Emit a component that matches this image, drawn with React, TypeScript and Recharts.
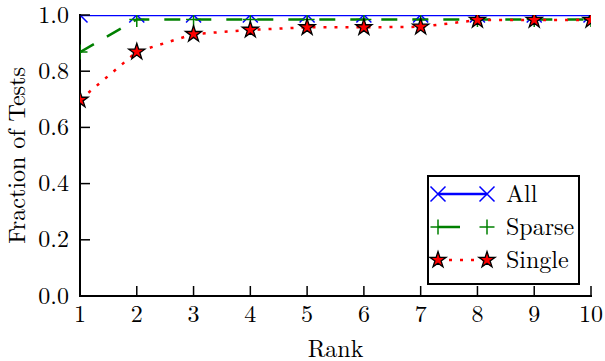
import { LineChart, Line, XAxis, YAxis, Legend } from "recharts";

const ranks = [1, 2, 3, 4, 5, 6, 7, 8, 9, 10];
const allTests = [1, 1, 1, 1, 1, 1, 1, 1, 1, 1];
const sparseTests = [0.868, 0.984, 0.984, 0.984, 0.984, 0.984, 0.984, 0.984, 0.984, 0.984];
const singleTests = [0.698, 0.869, 0.932, 0.947, 0.956, 0.956, 0.958, 0.982, 0.982, 0.982];
const xTicks = [1, 2, 3, 4, 5, 6, 7, 8, 9, 10];
const yTicks = [0, 0.2, 0.4, 0.6, 0.8, 1.0];
const seriesNames = ["All", "Sparse", "Single"];

const data = ranks.map((r, i) => ({
  rank: r,
  All: allTests[i],
  Sparse: sparseTests[i],
  Single: singleTests[i],
}));

const FONT = '"Latin Modern Roman", "Liberation Serif", monospace';
const txt = { fontFamily: FONT, fontSize: 24 };
const BLUE = "#0000ff";
const GREEN = "#008000";
const RED = "#ff0000";
const axisStyle = { stroke: "#000", strokeWidth: 2, strokeLinecap: "square" as const };

// plot box follows from the chart margins and axis sizes below
const PLOT = { x: 80, y: 15, w: 511, h: 281 };

const crossPath = (cx: number, cy: number, s: number) =>
  `M${cx - s},${cy - s}L${cx + s},${cy + s}M${cx - s},${cy + s}L${cx + s},${cy - s}`;
const plusPath = (cx: number, cy: number, s: number) =>
  `M${cx - s},${cy}L${cx + s},${cy}M${cx},${cy - s}L${cx},${cy + s}`;
const starPoints = (cx: number, cy: number, r: number) => {
  const pts: string[] = [];
  for (let k = 0; k < 10; k++) {
    const a = ((-90 + k * 36) * Math.PI) / 180;
    const rad = k % 2 ? r * 0.382 : r;
    pts.push(`${cx + rad * Math.cos(a)},${cy + rad * Math.sin(a)}`);
  }
  return pts.join(" ");
};

const Cross = ({ cx, cy }: { cx: number; cy: number }) => (
  <path d={crossPath(cx, cy, 7.5)} stroke={BLUE} strokeWidth={1.5} fill="none" />
);
const Plus = ({ cx, cy }: { cx: number; cy: number }) => (
  <path d={plusPath(cx, cy, 7.5)} stroke={GREEN} strokeWidth={1.5} fill="none" />
);
const Star = ({ cx, cy }: { cx: number; cy: number }) => (
  <polygon points={starPoints(cx, cy, 8.5)} fill={RED} stroke="#000" strokeWidth={1.3} />
);

// markers are cut at the frame, as in the original figure
const clipped = (el: any, key: string) => (
  <svg key={key} x={PLOT.x} y={PLOT.y} width={PLOT.w} height={PLOT.h} overflow="hidden">
    <g transform={`translate(${-PLOT.x} ${-PLOT.y})`}>{el}</g>
  </svg>
);
const dotCross = (p: any) => clipped(<Cross cx={p.cx} cy={p.cy} />, `c${p.index}`);
const dotPlus = (p: any) => clipped(<Plus cx={p.cx} cy={p.cy} />, `p${p.index}`);
const dotStar = (p: any) => clipped(<Star cx={p.cx} cy={p.cy} />, `s${p.index}`);

const BottomTick = ({ x, y, payload }: any) => (
  <g>
    <line x1={x} y1={y} x2={x} y2={y - 10} stroke="#000" strokeWidth={1.5} />
    <text x={x} y={y + 26} textAnchor="middle" style={txt} fill="#000">
      {payload.value}
    </text>
  </g>
);
const TopTick = ({ x, y }: any) => (
  <line x1={x} y1={y} x2={x} y2={y + 10} stroke="#000" strokeWidth={1.5} />
);
const LeftTick = ({ x, y, payload }: any) => (
  <g>
    <line x1={x} y1={y} x2={x + 10} y2={y} stroke="#000" strokeWidth={1.5} />
    <text x={x - 11} y={y + 7.5} textAnchor="end" style={txt} fill="#000">
      {Number(payload.value).toFixed(1)}
    </text>
  </g>
);
const RightTick = ({ x, y }: any) => (
  <line x1={x} y1={y} x2={x - 10} y2={y} stroke="#000" strokeWidth={1.5} />
);

const legendSymbols = [
  { name: seriesNames[0], color: BLUE, dash: undefined, Mark: Cross },
  { name: seriesNames[1], color: GREEN, dash: "22 30", Mark: Plus },
  { name: seriesNames[2], color: RED, dash: "3 8", Mark: Star },
];

function LegendBox() {
  return (
    <svg width={153} height={110} style={{ display: "block" }}>
      <rect x={1} y={1} width={151} height={108} fill="#fff" stroke="#000" strokeWidth={2} />
      {legendSymbols.map((s, i) => {
        const cy = 19 + 33 * i;
        return (
          <g key={s.name}>
            <line x1={11} y1={cy} x2={60} y2={cy} stroke={s.color} strokeWidth={2.5} strokeDasharray={s.dash} />
            <s.Mark cx={11} cy={cy} />
            <s.Mark cx={60} cy={cy} />
            <text x={79} y={cy + 8} style={txt} fill="#000">
              {s.name}
            </text>
          </g>
        );
      })}
    </svg>
  );
}

export default function App() {
  return (
    <div style={{ position: "absolute", left: 0, top: 0, background: "#fff", fontFamily: FONT }}>
      <LineChart width={605} height={361} data={data} margin={{ top: 15, right: 14, bottom: 0, left: 0 }}>
        <XAxis
          xAxisId="b"
          dataKey="rank"
          type="number"
          domain={[1, 10]}
          ticks={xTicks}
          allowDataOverflow
          interval={0}
          tickSize={0}
          tickMargin={0}
          tickLine={false}
          axisLine={axisStyle}
          tick={<BottomTick />}
          height={65}
          label={({ viewBox }: any) => (
            <text x={viewBox.x + viewBox.width / 2} y={viewBox.y + 61} textAnchor="middle" style={txt} fill="#000">
              Rank
            </text>
          )}
        />
        <XAxis
          xAxisId="t"
          orientation="top"
          dataKey="rank"
          type="number"
          domain={[1, 10]}
          ticks={xTicks}
          allowDataOverflow
          interval={0}
          tickSize={0}
          tickMargin={0}
          tickLine={false}
          axisLine={axisStyle}
          tick={<TopTick />}
          height={0}
        />
        <YAxis
          yAxisId="l"
          type="number"
          domain={[0, 1]}
          ticks={yTicks}
          allowDataOverflow
          interval={0}
          tickSize={0}
          tickMargin={0}
          tickLine={false}
          axisLine={axisStyle}
          tick={<LeftTick />}
          width={80}
          label={({ viewBox }: any) => {
            const cx = viewBox.x + 25;
            const cy = viewBox.y + viewBox.height / 2;
            return (
              <text x={cx} y={cy} transform={`rotate(-90 ${cx} ${cy})`} textAnchor="middle" style={txt} fill="#000">
                Fraction of Tests
              </text>
            );
          }}
        />
        <YAxis
          yAxisId="r"
          orientation="right"
          type="number"
          domain={[0, 1]}
          ticks={yTicks}
          allowDataOverflow
          interval={0}
          tickSize={0}
          tickMargin={0}
          tickLine={false}
          axisLine={axisStyle}
          tick={<RightTick />}
          width={0}
        />
        <Line
          xAxisId="b"
          yAxisId="l"
          type="linear"
          dataKey="All"
          stroke={BLUE}
          strokeWidth={2.5}
          dot={dotCross}
          activeDot={false}
          isAnimationActive={false}
        />
        <Line
          xAxisId="b"
          yAxisId="l"
          type="linear"
          dataKey="Sparse"
          stroke={GREEN}
          strokeWidth={2.5}
          strokeDasharray="16 15"
          dot={dotPlus}
          activeDot={false}
          isAnimationActive={false}
        />
        <Line
          xAxisId="b"
          yAxisId="l"
          type="linear"
          dataKey="Single"
          stroke={RED}
          strokeWidth={2.5}
          strokeDasharray="3 8"
          dot={dotStar}
          activeDot={false}
          isAnimationActive={false}
        />
        <Legend
          layout="vertical"
          align="center"
          verticalAlign="middle"
          wrapperStyle={{ left: 427, top: 175, width: 153, height: 110 }}
          content={() => <LegendBox />}
        />
      </LineChart>
    </div>
  );
}
